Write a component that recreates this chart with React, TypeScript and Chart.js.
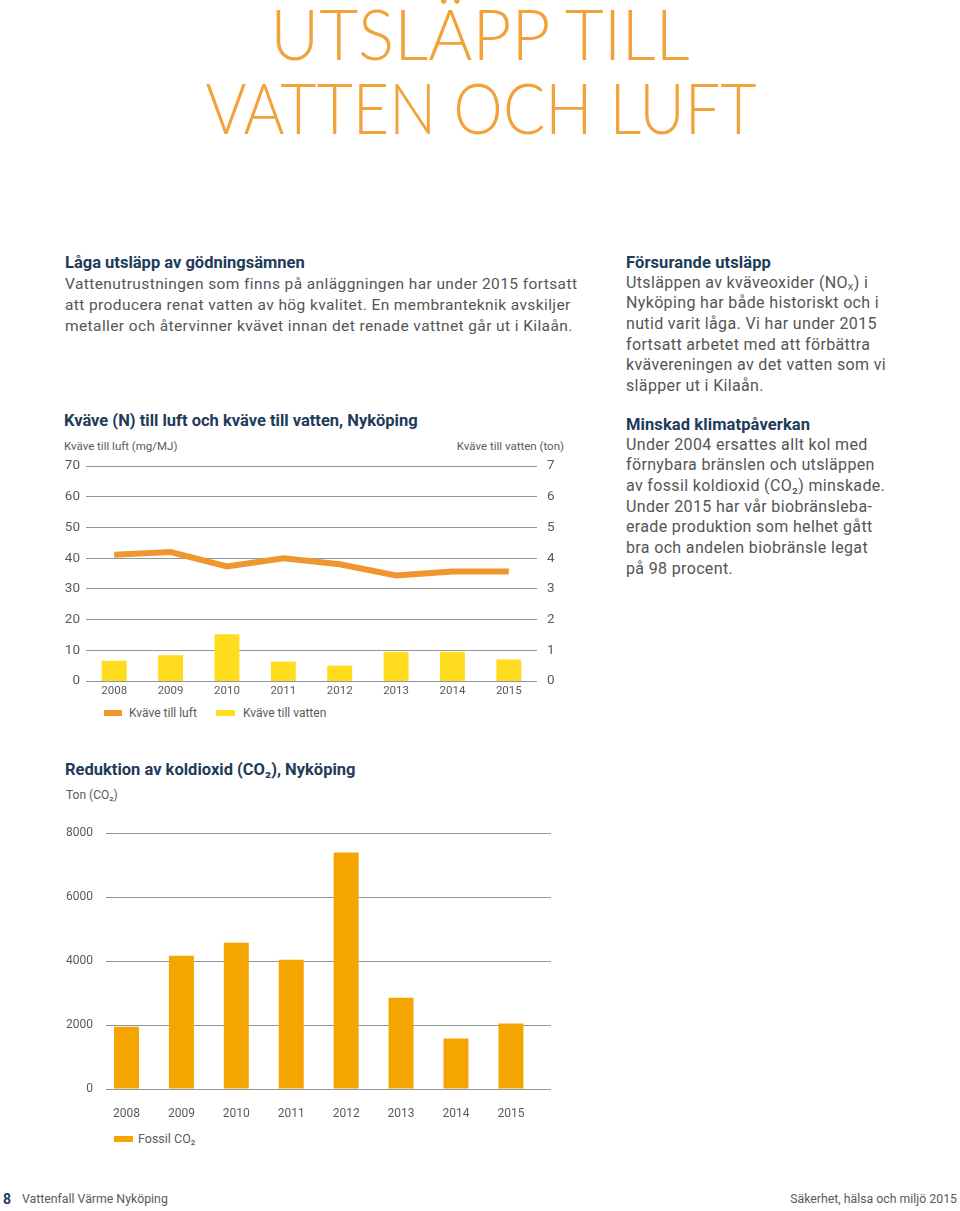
import React, { useEffect, useRef } from "react";
import { Chart, registerables } from "chart.js";

Chart.register(...registerables);

// ---- data ----
const years = ["2008", "2009", "2010", "2011", "2012", "2013", "2014", "2015"];
const kvaveTillLuft = [41.1, 42.0, 37.3, 40.0, 38.0, 34.4, 35.7, 35.7]; // mg/MJ (left axis)
const kvaveTillVatten = [0.66, 0.84, 1.52, 0.63, 0.5, 0.95, 0.95, 0.7]; // ton (right axis)
const fossilCO2 = [1950, 4170, 4570, 4040, 7400, 2850, 1580, 2050]; // ton

const luftLabel = "Kväve till luft";
const vattenLabel = "Kväve till vatten";
const co2Label = "Fossil CO₂";

// ---- styles ----
const FONT = "Roboto, 'Noto Sans', sans-serif";
const ORANGE = "#F0962E";
const YELLOW = "#FFDD1E";
const CO2_COLOR = "#F5A500";
const GRID = "#8E979E";
const TICK = "#5a5a5a";
const NAVY = "#1E3B5A";
const BODY = "#555555";
const TITLE = "#F2A23A";

function NitrogenChart() {
  const ref = useRef<HTMLCanvasElement | null>(null);
  useEffect(() => {
    if (!ref.current) return;
    const chart = new Chart(ref.current, {
      type: "bar",
      data: {
        labels: years,
        datasets: [
          {
            type: "line",
            label: luftLabel,
            data: kvaveTillLuft,
            yAxisID: "y",
            borderColor: ORANGE,
            backgroundColor: ORANGE,
            borderWidth: 6,
            pointRadius: 0,
            tension: 0,
            borderCapStyle: "butt",
            borderJoinStyle: "miter",
            order: 0,
          } as any,
          {
            type: "bar",
            label: vattenLabel,
            data: kvaveTillVatten,
            yAxisID: "y1",
            backgroundColor: YELLOW,
            barPercentage: 0.443,
            categoryPercentage: 1,
            order: 1,
          } as any,
        ],
      },
      options: {
        responsive: false,
        maintainAspectRatio: false,
        animation: false,
        layout: { padding: { top: 0, left: 0, right: 0, bottom: 0 } },
        plugins: {
          tooltip: { enabled: false },
          legend: { display: false },
        },
        scales: {
          x: {
            grid: { display: false, drawTicks: false },
            border: { display: false },
            ticks: { color: TICK, font: { family: FONT, size: 11.5 }, padding: 3, maxRotation: 0 },
            afterFit: (s: any) => {
              s.height = 22;
            },
          } as any,
          y: {
            position: "left",
            min: 0,
            max: 70,
            ticks: { stepSize: 10, padding: 6, color: TICK, font: { family: FONT, size: 13.5 } },
            grid: { color: GRID, drawTicks: false, lineWidth: 1 },
            border: { display: false },
            afterFit: (s: any) => {
              s.width = 36;
            },
          } as any,
          y1: {
            position: "right",
            min: 0,
            max: 7,
            ticks: { stepSize: 1, padding: 10, color: TICK, font: { family: FONT, size: 13.5 } },
            grid: { display: false, drawTicks: false },
            border: { display: false },
            afterFit: (s: any) => {
              s.width = 43;
            },
          } as any,
        },
      },
    });
    return () => chart.destroy();
  }, []);
  return <canvas ref={ref} width={530} height={255} style={{ display: "block" }} />;
}

function CO2Chart() {
  const ref = useRef<HTMLCanvasElement | null>(null);
  useEffect(() => {
    if (!ref.current) return;
    const chart = new Chart(ref.current, {
      type: "bar",
      data: {
        datasets: [
          {
            label: co2Label,
            data: fossilCO2.map((v, i) => ({ x: i, y: v })),
            backgroundColor: CO2_COLOR,
            barPercentage: 0.455,
            categoryPercentage: 1,
          } as any,
        ],
      },
      options: {
        responsive: false,
        maintainAspectRatio: false,
        animation: false,
        layout: { padding: { top: 0, left: 0, right: 0, bottom: 0 } },
        plugins: {
          tooltip: { enabled: false },
          legend: { display: false },
        },
        scales: {
          x: {
            type: "linear",
            min: -0.373,
            max: 7.73,
            offset: false,
            grid: { display: false, offset: false, drawTicks: false },
            border: { display: false },
            afterBuildTicks: (s: any) => {
              s.ticks = years.map((_, i) => ({ value: i }));
            },
            ticks: {
              color: TICK,
              font: { family: FONT, size: 12 },
              padding: 18,
              maxRotation: 0,
              autoSkip: false,
              callback: (v: any) => years[v as number] ?? "",
            },
            afterFit: (s: any) => {
              s.height = 36;
            },
          } as any,
          y: {
            min: 0,
            max: 8000,
            ticks: {
              stepSize: 2000,
              padding: 13,
              color: TICK,
              font: { family: FONT, size: 12 },
              callback: (v: any) => String(v),
            },
            grid: { color: GRID, drawTicks: false, lineWidth: 1 },
            border: { display: false },
            afterFit: (s: any) => {
              s.width = 56;
            },
          } as any,
        },
      },
    });
    return () => chart.destroy();
  }, []);
  return <canvas ref={ref} width={501} height={312} style={{ display: "block" }} />;
}

type TP = {
  x: number;
  y: number;
  size: number;
  color?: string;
  weight?: number;
  lh?: number;
  align?: "left" | "right" | "center";
  w?: number;
  ls?: number;
  sx?: number;
  family?: string;
  children: React.ReactNode;
};

function T({ x, y, size, color = BODY, weight = 400, lh, align = "left", w, ls = 0, sx, family = FONT, children }: TP) {
  const lineH = lh ?? Math.round(size * 1.3);
  const style: React.CSSProperties = {
    position: "absolute",
    top: y - lineH / 2,
    fontFamily: family,
    fontSize: size,
    fontWeight: weight,
    color,
    lineHeight: `${lineH}px`,
    whiteSpace: "pre",
    letterSpacing: ls,
  };
  if (sx) {
    style.transform = `scaleX(${sx})`;
    style.transformOrigin = "center";
  }
  if (align === "right") {
    style.right = 960 - x;
    style.textAlign = "right";
  } else if (align === "center") {
    style.left = x - (w ?? 800) / 2;
    style.width = w ?? 800;
    style.textAlign = "center";
  } else {
    style.left = x;
  }
  return <div style={style}>{children}</div>;
}

function Lines({ x, y, step, size, color, lines, ls }: { x: number; y: number; step: number; size: number; color?: string; lines: string[]; ls?: number }) {
  return (
    <>
      {lines.map((l, i) => (
        <T key={i} x={x} y={y + i * step} size={size} color={color} ls={ls} lh={step}>
          {l}
        </T>
      ))}
    </>
  );
}

function Swatch({ x, y, w, h, color }: { x: number; y: number; w: number; h: number; color: string }) {
  return <div style={{ position: "absolute", left: x, top: y, width: w, height: h, background: color }} />;
}

export default function App() {
  return (
    <div
      style={{
        position: "absolute",
        left: 0,
        top: 0,
        width: 960,
        height: 1211,
        background: "#fff",
        overflow: "hidden",
      }}
    >
      {/* Page title */}
      <T x={480} y={33} size={70} color={TITLE} weight={300} align="center" w={900} family="Lato, sans-serif" lh={70} sx={0.963}>
        UTSLÄPP TILL
      </T>
      <T x={481} y={107} size={70} color={TITLE} weight={300} align="center" w={900} family="Lato, sans-serif" lh={70} sx={0.895}>
        VATTEN OCH LUFT
      </T>

      {/* Left text */}
      <T x={65} y={262} size={16.5} color={NAVY} weight={700}>
        Låga utsläpp av gödningsämnen
      </T>
      <Lines
        x={65}
        y={284}
        step={21}
        size={15.5}
        ls={0.4}
        lines={[
          "Vattenutrustningen som finns på anläggningen har under 2015 fortsatt",
          "att producera renat vatten av hög kvalitet. En membranteknik avskiljer",
          "metaller och återvinner kvävet innan det renade vattnet går ut i Kilaån.",
        ]}
      />

      {/* Right text */}
      <T x={626} y={262} size={16.5} color={NAVY} weight={700} ls={0.1}>
        Försurande utsläpp
      </T>
      <Lines
        x={626}
        y={283}
        step={20.7}
        size={16}
        ls={0.35}
        lines={[
          "Utsläppen av kväveoxider (NOₓ) i",
          "Nyköping har både historiskt och i",
          "nutid varit låga. Vi har under 2015",
          "fortsatt arbetet med att förbättra",
          "kvävereningen av det vatten som vi",
          "släpper ut i Kilaån.",
        ]}
      />
      <T x={626} y={424} size={16.5} color={NAVY} weight={700} ls={0.1}>
        Minskad klimatpåverkan
      </T>
      <Lines
        x={626}
        y={445}
        step={20.7}
        size={16}
        ls={0.35}
        lines={[
          "Under 2004 ersattes allt kol med",
          "förnybara bränslen och utsläppen",
          "av fossil koldioxid (CO₂) minskade.",
          "Under 2015 har vår biobränsleba-",
          "erade produktion som helhet gått",
          "bra och andelen biobränsle legat",
          "på 98 procent.",
        ]}
      />

      {/* Chart 1 */}
      <T x={64} y={420} size={16.5} color={NAVY} weight={700}>
        Kväve (N) till luft och kväve till vatten, Nyköping
      </T>
      <T x={64} y={446} size={11.5} color={TICK}>
        Kväve till luft (mg/MJ)
      </T>
      <T x={564} y={446} size={11.5} color={TICK} align="right">
        Kväve till vatten (ton)
      </T>
      <div style={{ position: "absolute", left: 50, top: 448 }}>
        <NitrogenChart />
      </div>
      <Swatch x={104} y={710} w={18} h={6} color={ORANGE} />
      <T x={129} y={713} size={12} color={TICK}>
        {luftLabel}
      </T>
      <Swatch x={216} y={710} w={19} h={6} color={YELLOW} />
      <T x={243} y={713} size={12} color={TICK}>
        {vattenLabel}
      </T>

      {/* Chart 2 */}
      <T x={65} y={769} size={16.5} color={NAVY} weight={700}>
        Reduktion av koldioxid (CO₂), Nyköping
      </T>
      <T x={66} y={795} size={12} color={TICK}>
        Ton (CO₂)
      </T>
      <div style={{ position: "absolute", left: 50, top: 813 }}>
        <CO2Chart />
      </div>
      <Swatch x={114} y={1136} w={19} h={6} color={CO2_COLOR} />
      <T x={138} y={1139} size={12.5} color={TICK}>
        {co2Label}
      </T>

      {/* Footer */}
      <T x={3} y={1199} size={14} color={NAVY} weight={700}>
        8
      </T>
      <T x={22} y={1199} size={12.3} color={TICK}>
        Vattenfall Värme Nyköping
      </T>
      <T x={957} y={1199} size={12.3} color={TICK} align="right">
        Säkerhet, hälsa och miljö 2015
      </T>
    </div>
  );
}
